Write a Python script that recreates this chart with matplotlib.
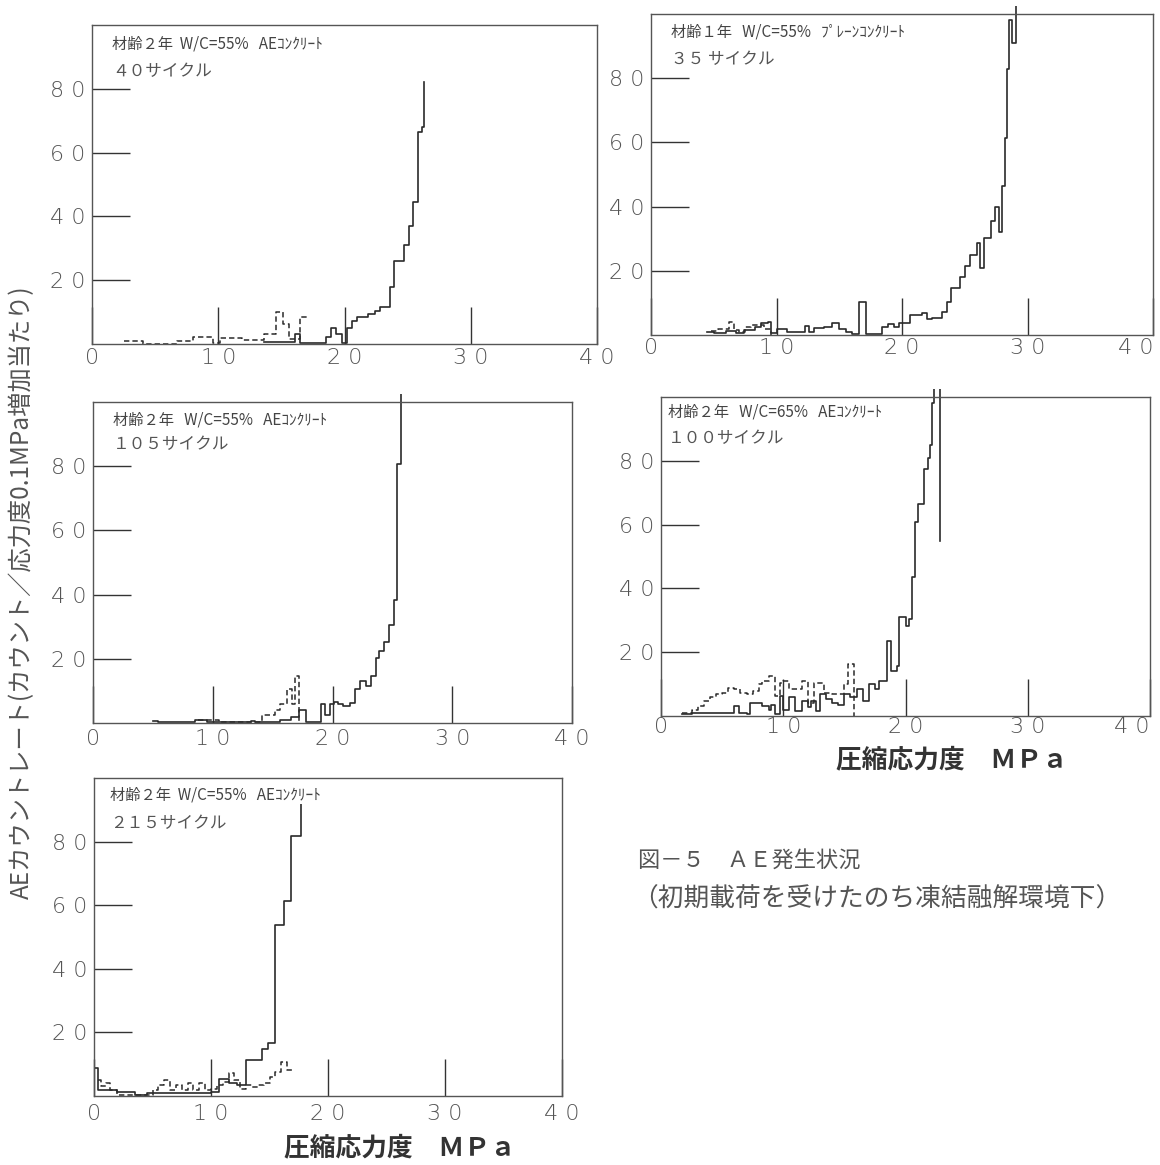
import numpy as np
import matplotlib
matplotlib.use('Agg')
import matplotlib.pyplot as plt
from matplotlib.patches import Rectangle

plt.rcParams['font.family'] = ['Noto Sans CJK JP', 'DejaVu Sans']

# --- data (stress MPa, AE count rate) ---
# panel 1 : 材齢2年 W/C=55% AE, 40 cycles
p1_solid_x = [13.6, 16.1, 16.5, 18.5, 18.9, 19.3, 19.8, 20.2, 20.6, 21.0, 21.5, 21.9, 22.4, 22.8,
              23.6, 23.9, 24.7, 25.1, 25.4, 25.8, 26.1, 26.3]
p1_solid_y = [0.6, 3.0, 0.3, 2.2, 5.0, 3.0, 0.3, 5.0, 7.2, 8.4, 8.6, 9.4, 10.5, 11.5,
              17.8, 26.0, 31.0, 37.0, 44.5, 66.5, 68.0, 82.0]
p1_dash_x = [2.5, 4.0, 6.7, 8.0, 9.6, 10.1, 11.9, 13.6, 14.6, 15.1, 15.6, 16.5, 17.0]
p1_dash_y = [0.8, 0.0, 1.0, 2.2, 0.3, 2.0, 1.2, 3.0, 10.0, 6.2, 1.5, 8.4, 8.4]

# panel 2 : 材齢1年 W/C=55% plain, 35 cycles
p2_solid_x = [4.5, 5.0, 6.0, 6.8, 7.4, 8.3, 8.8, 9.3, 9.6, 10.0, 10.8, 12.3, 12.6, 13.0, 13.8,
              14.4, 15.0, 15.5, 16.0, 16.6, 17.1, 18.4, 18.9, 19.4, 19.8, 20.6, 21.6, 22.0, 22.4,
              23.2, 23.6, 23.9, 24.6, 25.0, 25.4, 26.0, 26.2, 26.5, 27.1, 27.4, 27.7, 28.0, 28.2,
              28.4, 28.5, 28.8, 29.1]
p2_solid_y = [1.0, 0.5, 1.2, 0.5, 1.5, 2.6, 3.6, 4.0, 0.5, 1.8, 1.0, 2.8, 1.0, 2.2, 2.6,
              3.6, 2.0, 1.0, 0.3, 10.4, 0.3, 2.6, 3.4, 2.4, 3.6, 6.2, 6.8, 5.0, 5.2,
              7.3, 10.4, 14.6, 18.2, 21.4, 25.0, 28.6, 21.0, 30.2, 35.4, 40.0, 32.0, 46.4, 61.5,
              82.8, 98.0, 91.0, 150.0]
p2_dash_x = [4.8, 5.3, 6.2, 6.6, 7.0, 7.5, 8.0, 8.5, 9.0, 9.6]
p2_dash_y = [1.2, 2.0, 4.0, 1.5, 0.8, 2.5, 3.2, 3.0, 2.0, 0.0]

# panel 3 : 材齢2年 W/C=55% AE, 105 cycles
p3_solid_x = [5.0, 5.4, 8.5, 9.5, 13.2, 13.5, 15.6, 16.5, 17.2, 17.8, 19.0, 19.4, 19.8, 20.1,
              20.5, 20.9, 21.5, 21.9, 22.3, 22.8, 23.2, 23.6, 23.9, 24.3, 24.7, 25.1, 25.4, 25.7]
p3_solid_y = [0.7, 0.2, 0.8, 0.2, 0.5, 0.2, 1.0, 2.0, 4.2, 0.3, 5.8, 2.6, 5.8, 6.5,
              5.8, 5.2, 6.3, 10.5, 13.0, 11.5, 14.6, 20.4, 22.3, 25.1, 30.4, 38.2, 80.6, 150.0]
p3_dash_x = [8.8, 10.5, 14.1, 15.2, 15.6, 16.2, 16.6, 16.9, 17.2]
p3_dash_y = [0.8, 0.3, 2.6, 4.0, 6.0, 10.5, 6.0, 14.6, 0.0]

# panel 4 : 材齢2年 W/C=65% AE, 100 cycles
p4_solid_x = [1.7, 2.5, 6.0, 6.4, 7.0, 7.3, 8.3, 8.8, 9.0, 9.3, 9.7, 10.0, 10.5, 11.0, 11.5,
              12.0, 12.3, 12.7, 13.0, 13.5, 14.0, 14.5, 15.0, 15.5, 16.0, 16.5, 17.0, 17.5,
              17.8, 18.5, 18.8, 19.3, 19.5, 20.0, 20.3, 20.5, 20.8, 21.0, 21.5, 21.8, 22.0,
              22.2, 22.3, 22.8]
p4_solid_y = [0.5, 1.0, 3.0, 1.0, 0.5, 4.2, 3.0, 2.0, 3.6, 0.5, 6.3, 2.0, 5.8, 1.6, 4.7,
              2.8, 4.7, 1.6, 6.8, 5.2, 4.2, 3.6, 6.8, 5.8, 8.4, 4.7, 10.0, 8.4,
              11.0, 23.6, 14.0, 15.7, 30.9, 28.3, 30.4, 43.5, 60.7, 66.5, 77.5, 81.0, 85.0,
              98.0, 150.0, 55.0]
p4_dash_x = [1.7, 2.5, 3.0, 3.5, 4.0, 4.5, 5.0, 5.5, 6.0, 6.5, 7.0, 7.5, 8.0, 8.3, 8.8, 9.3,
             9.7, 10.0, 10.5, 11.5, 12.0, 12.5, 13.3, 14.0, 15.0, 15.3, 15.8]
p4_dash_y = [1.0, 2.0, 3.0, 4.7, 5.8, 6.8, 7.3, 8.9, 8.4, 7.3, 6.8, 7.8, 10.0, 11.0, 12.6, 6.3,
             10.5, 11.0, 8.4, 11.0, 4.2, 10.5, 7.3, 6.8, 10.0, 16.2, 0.0]

# panel 5 : 材齢2年 W/C=55% AE, 215 cycles
p5_solid_x = [0.0, 0.3, 2.0, 3.5, 4.5, 10.0, 10.7, 11.5, 12.2, 13.0, 14.4, 14.9, 15.5, 16.2,
              16.8, 17.7]
p5_solid_y = [8.7, 2.0, 1.4, 0.2, 1.0, 1.4, 5.3, 4.0, 3.5, 11.2, 14.7, 16.6, 53.7, 61.4,
              81.9, 92.4]
p5_dash_x = [0.3, 0.6, 1.0, 1.4, 2.0, 5.0, 5.5, 6.0, 6.5, 7.0, 7.5, 8.0, 8.5, 9.0, 9.5, 10.0,
             10.5, 11.0, 11.5, 12.0, 12.5, 13.0, 13.5, 14.0, 14.5, 15.0, 15.5, 16.0, 16.5, 17.0]
p5_dash_y = [5.0, 3.0, 4.0, 2.0, 0.3, 2.0, 3.5, 5.0, 2.0, 3.5, 1.8, 4.2, 1.8, 4.2, 1.8, 2.3,
             3.5, 4.5, 7.2, 5.0, 2.3, 3.5, 2.7, 3.5, 4.0, 6.1, 7.7, 10.8, 8.2, 8.2]

titles = ['材齢２年  W/C=55%   AEｺﾝｸﾘｰﾄ',
          '材齢１年   W/C=55%   ﾌﾟﾚｰﾝｺﾝｸﾘｰﾄ',
          '材齢２年   W/C=55%   AEｺﾝｸﾘｰﾄ',
          '材齢２年   W/C=65%   AEｺﾝｸﾘｰﾄ',
          '材齢２年  W/C=55%   AEｺﾝｸﾘｰﾄ']
cycles = ['４０サイクル', '３５ サイクル', '１０５サイクル', '１００サイクル', '２１５サイクル']

xticks = [0, 10, 20, 30, 40]
xtick_labels = ['0', '1 0', '2 0', '3 0', '4 0']
yticks = [20, 40, 60, 80]
ytick_labels = ['2 0', '4 0', '6 0', '8 0']

W, H = 1160, 1165
fig = plt.figure(figsize=(W / 100, H / 100), dpi=100)

# panel frames in pixels: left, right, top, bottom
frames = [(92, 597, 25, 344), (651, 1153, 14, 335), (93, 572, 402, 723),
          (661, 1150, 397, 716), (94, 562, 778, 1096)]
text_pos = [(0.04, 0.94, 0.853), (0.04, 0.944, 0.857), (0.042, 0.944, 0.866),
            (0.014, 0.953, 0.87), (0.034, 0.947, 0.858)]
series = [(p1_solid_x, p1_solid_y, p1_dash_x, p1_dash_y),
          (p2_solid_x, p2_solid_y, p2_dash_x, p2_dash_y),
          (p3_solid_x, p3_solid_y, p3_dash_x, p3_dash_y),
          (p4_solid_x, p4_solid_y, p4_dash_x, p4_dash_y),
          (p5_solid_x, p5_solid_y, p5_dash_x, p5_dash_y)]
xpads = [3, 2, 4, 1, 6]

ink = '#2a2a2a'
for i, (l, r, t, b) in enumerate(frames):
    ax = fig.add_axes([l / W, 1 - b / H, (r - l) / W, (b - t) / H])
    sx, sy, dx, dy = series[i]
    ax.set_xlim(0, 40)
    ax.set_ylim(0, 100)
    clip = Rectangle((0, 0), 40, 102.5, transform=ax.transData)
    ln1, = ax.step(sx, sy, where='post', color=ink, lw=1.2)
    ln2, = ax.step(dx, dy, where='post', color=ink, lw=1.1, linestyle=(0, (3.5, 2)))
    ln1.set_clip_path(clip)
    ln2.set_clip_path(clip)
    ax.set_xticks(xticks)
    ax.set_xticklabels(xtick_labels)
    ax.set_yticks(yticks)
    ax.set_yticklabels(ytick_labels)
    ax.tick_params(axis='both', direction='in', length=27, width=1.0, colors='#333333',
                   labelcolor='#555555', labelsize=16)
    ax.tick_params(axis='x', pad=xpads[i])
    ax.tick_params(axis='y', pad=5)
    for lab in ax.get_xticklabels() + ax.get_yticklabels():
        lab.set_family(['DejaVu Sans'])
        lab.set_fontweight('light')
    if i in (1, 3):
        ax.get_xticklabels()[-1].set_horizontalalignment('right')
    for s in ax.spines.values():
        s.set_color('#555555')
        s.set_linewidth(1.0)
    tx, ty1, ty2 = text_pos[i]
    ax.text(tx, ty1, titles[i], transform=ax.transAxes, fontsize=11, color='#444444',
            va='center', ha='left', bbox=dict(fc='white', ec='none', pad=0.5))
    ax.text(tx, ty2, cycles[i], transform=ax.transAxes, fontsize=12, color='#555555',
            va='center', ha='left')

fig.text(22 / W, 1 - 592 / H, 'AEカウントレート(カウント／応力度0.1MPa増加当たり)',
         rotation=90, ha='center', va='center', fontsize=17.5, color='#555555')

fig.text(400 / W, 1 - 1148 / H, '圧縮応力度　ＭＰａ', ha='center', va='center',
         fontsize=18.5, fontweight='bold', color='#333333')
fig.text(952 / W, 1 - 760 / H, '圧縮応力度　ＭＰａ', ha='center', va='center',
         fontsize=18.5, fontweight='bold', color='#333333')

fig.text(638 / W, 1 - 860 / H, '図－５　ＡＥ発生状況', ha='left', va='center',
         fontsize=16, color='#555555')
fig.text(632 / W, 1 - 900 / H, '（初期載荷を受けたのち凍結融解環境下）', ha='left', va='center',
         fontsize=18.5, color='#555555')

plt.savefig('out.png', dpi=100)
